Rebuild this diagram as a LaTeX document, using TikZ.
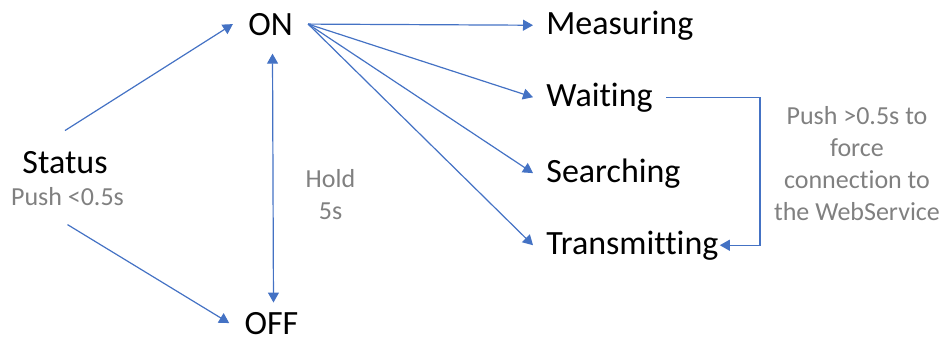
\documentclass[tikz,border=0pt]{standalone}
\usepackage{fontspec}
\setmainfont[Ligatures=NoCommon]{Carlito}
\usetikzlibrary{arrows.meta}
\definecolor{lineblue}{HTML}{4472C4}
\definecolor{notegray}{HTML}{808080}

\begin{document}
\begin{tikzpicture}[x=0.5pt,y=0.5pt,
        state/.style={font=\fontsize{17}{20}\selectfont, inner xsep=7.5pt, inner ysep=9pt, anchor=base},
        mode/.style={font=\fontsize{17}{20}\selectfont, inner xsep=6.5pt, inner ysep=0pt, anchor=base west},
        note/.style={font=\fontsize{13}{16}\selectfont, text=notegray, align=center},
        arr/.style={lineblue, line width=0.6pt, ->, >={Triangle[length=5pt,width=5.5pt]}}]
        \useasboundingbox (0,0) rectangle (945,344);
        %% Buttons and states
        \node[state,inner ysep=10pt] (status) at (65,171)   {Status};
        \node[note,anchor=base,inner ysep=9.5pt] (push) at (67.5,139) {Push <0.5s};
        \node[state] (on)  at (270.5,309) {ON};
        \node[state,inner ysep=1.5pt] (off) at (271.5,10) {OFF};
        \node[mode] (measuring)    at (533,310) {Measuring};
        \node[mode] (waiting)      at (533,238) {Waiting};
        \node[mode] (searching)    at (533,162) {Searching};
        \node[mode] (transmitting) at (533,90)  {Transmitting};
        %% Notes
        \node[note] (hold)  at (330.5,149.5) {Hold\\5s};
        \node[note] (force) at (857,180) {Push >0.5s to\\force\\connection to\\the WebService};
        %% Arrows
        \draw[arr] (status.north) -- (on.west);
        \draw[arr] (push.south) -- (off.west);
        \draw[arr,<->,shorten >=3pt] ([xshift=1pt]on.south) -- ([xshift=1pt]off.north);
        \draw[arr] (on.east) -- (measuring.west);
        \draw[arr] (on.east) -- (waiting.west);
        \draw[arr] (on.east) -- (searching.west);
        \draw[arr] (on.east) -- (transmitting.west);
        \draw[arr] (waiting.east) -- ++(47pt,0) |- ([xshift=-6pt]transmitting.east);
    \end{tikzpicture}
\end{document}
